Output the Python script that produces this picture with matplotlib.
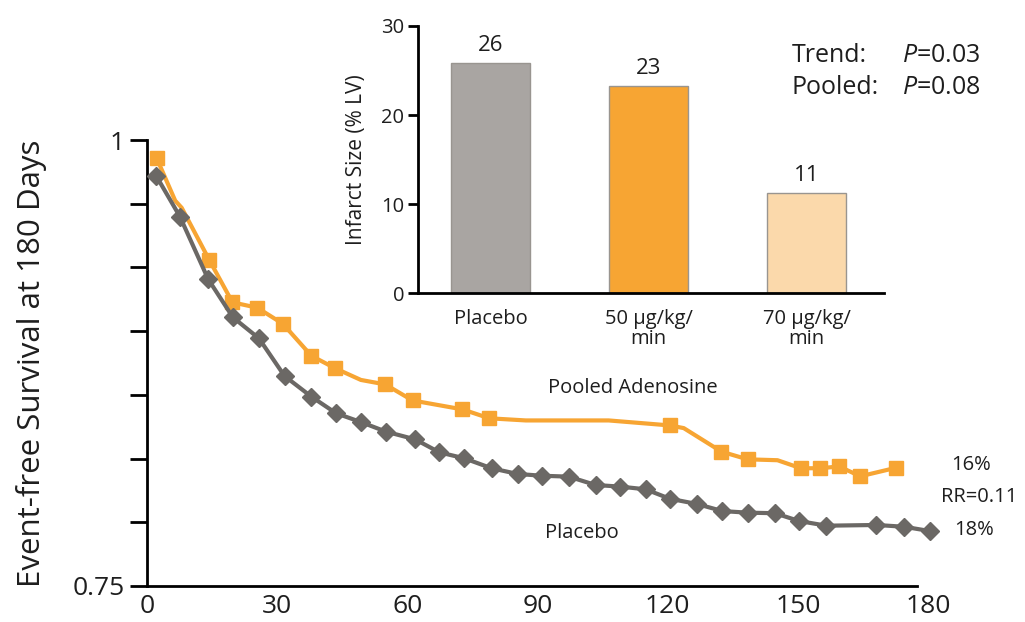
import numpy as np
import matplotlib
matplotlib.use('Agg')
import matplotlib.pyplot as plt

plt.rcParams['font.family'] = ['Open Sans', 'DejaVu Sans']
plt.rcParams['mathtext.fontset'] = 'custom'
plt.rcParams['mathtext.it'] = 'Open Sans:italic'
plt.rcParams['mathtext.rm'] = 'Open Sans'

# survival curves (day, event-free survival)
pooled_days = [2.2, 6.5, 8.0, 14.3, 19.7, 25.4, 31.3, 37.9, 43.4, 49.3, 54.9, 61.2, 72.7, 78.9,
               87.3, 106.4, 120.5, 123.7, 132.4, 138.4, 145.3, 150.7, 155.1, 159.5, 164.4, 172.7]
pooled_surv = [0.990, 0.966, 0.962, 0.933, 0.909, 0.906, 0.897, 0.879, 0.872, 0.8655, 0.863, 0.854, 0.849, 0.844,
               0.8428, 0.8428, 0.840, 0.8385, 0.8253, 0.821, 0.8205, 0.816, 0.816, 0.817, 0.8115, 0.8163]
pooled_marks = [0, 3, 4, 5, 6, 7, 8, 10, 11, 12, 13, 16, 18, 19, 21, 22, 23, 24, 25]

placebo_days = [2.1, 7.6, 14.1, 19.8, 25.8, 31.7, 37.9, 43.6, 49.4, 55.1, 61.8, 67.4, 73.1, 79.4, 85.4,
                91.0, 97.2, 103.4, 109.1, 114.9, 120.5, 126.7, 132.6, 138.4, 144.7, 150.3, 156.6, 168.1, 174.5, 180.4]
placebo_surv = [0.980, 0.957, 0.922, 0.9006, 0.8888, 0.8677, 0.8561, 0.8468, 0.8418, 0.8365, 0.8322, 0.8249, 0.8216,
                0.8160, 0.8128, 0.8118, 0.8113, 0.8066, 0.8057, 0.8042, 0.7989, 0.7960, 0.7920, 0.7911, 0.7908,
                0.7864, 0.7838, 0.7842, 0.7832, 0.7808]

# inset bars
groups = ['Placebo', '50 µg/kg/\nmin', '70 µg/kg/\nmin']
infarct = [25.9, 23.3, 11.3]
infarct_labels = ['26', '23', '11']
bar_colors = ['#a9a5a2', '#f7a533', '#fbd9ab']

orange = '#f7a533'
grey = '#6b6865'
txt = '#1e1e1e'

fig = plt.figure(figsize=(10.25, 6.22), dpi=100)
ax = fig.add_axes([0.1434, 0.0579, 0.762, 0.717])

ax.plot(pooled_days, pooled_surv, color=orange, lw=3, marker='s', ms=9.5,
        markevery=pooled_marks, clip_on=False, zorder=3)
ax.plot(placebo_days, placebo_surv, color=grey, lw=3, marker='D', ms=9,
        clip_on=False, zorder=4)

ax.set_xlim(0, 180)
ax.set_ylim(0.75, 1)
ax.set_xticks([0, 30, 60, 90, 120, 150, 180])
yt = np.linspace(0.75, 1, 8)
ax.set_yticks(yt)
ax.set_yticklabels(['0.75'] + [''] * 6 + ['1'])
ax.tick_params(axis='x', length=0, labelsize=19, pad=6, labelcolor=txt)
ax.tick_params(axis='y', length=12, width=2, labelsize=19, pad=4, labelcolor=txt)
for s in ['top', 'right']:
    ax.spines[s].set_visible(False)
for s in ['left', 'bottom']:
    ax.spines[s].set_linewidth(2)
ax.spines['bottom'].set_bounds(0, 177.5)
ax.set_ylabel('Event-free Survival at 180 Days', fontsize=22.5, color=txt)
ax.yaxis.set_label_coords(-0.128, 0.5)

ax.text(112, 0.861, 'Pooled Adenosine', fontsize=14.5, ha='center', va='center', color=txt)
ax.text(100.2, 0.7797, 'Placebo', fontsize=14.5, ha='center', va='center', color=txt)
ax.text(190, 0.8178, '16%', fontsize=14.5, ha='center', va='center', color=txt, clip_on=False)
ax.text(191.8, 0.800, 'RR=0.11', fontsize=14.5, ha='center', va='center', color=txt, clip_on=False)
ax.text(190.5, 0.7814, '18%', fontsize=14.5, ha='center', va='center', color=txt, clip_on=False)

# inset infarct size
ins = fig.add_axes([0.4078, 0.5284, 0.4546, 0.4298])
x = np.arange(len(groups))
ins.bar(x, infarct, width=0.5, color=bar_colors, edgecolor='#999590', linewidth=1)
for xi, v, lab in zip(x, infarct, infarct_labels):
    ins.text(xi, v + 0.7, lab, ha='center', va='bottom', fontsize=16, color=txt)
ins.set_xlim(-0.46, 2.49)
ins.set_ylim(0, 30)
ins.set_yticks([0, 10, 20, 30])
ins.set_xticks(x)
ins.set_xticklabels(groups, fontsize=14.5, linespacing=1.05, color=txt)
ins.tick_params(axis='x', length=0, pad=11)
ins.tick_params(axis='y', length=7, width=2, labelsize=14.5, pad=3, labelcolor=txt)
for s in ['top', 'right']:
    ins.spines[s].set_visible(False)
for s in ['left', 'bottom']:
    ins.spines[s].set_linewidth(2)
ins.set_ylabel('Infarct Size (% LV)', fontsize=15, labelpad=10, color=txt)
ins.patch.set_alpha(0)

fig.text(792 / 1025, 1 - 55 / 622, 'Trend:', fontsize=18, va='center', color=txt)
fig.text(792 / 1025, 1 - 88 / 622, 'Pooled:', fontsize=18, va='center', color=txt)
fig.text(902 / 1025, 1 - 55 / 622, r'$\it{P}$=0.03', fontsize=18, va='center', color=txt)
fig.text(902 / 1025, 1 - 88 / 622, r'$\it{P}$=0.08', fontsize=18, va='center', color=txt)

fig.savefig('out.png', dpi=100)
